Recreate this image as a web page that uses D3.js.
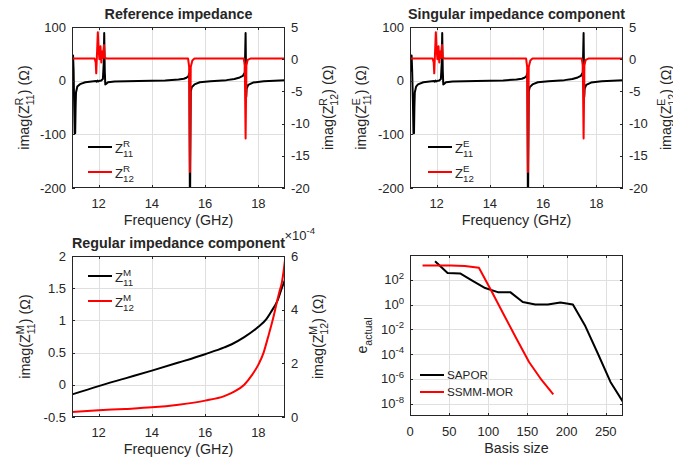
<!DOCTYPE html>
<html><head><meta charset="utf-8">
<script src="https://cdn.jsdelivr.net/npm/d3@7"></script>
<style>
body{margin:0;background:#fff}
svg{display:block}
text{font-family:"Liberation Sans",Arial,Helvetica,sans-serif;fill:#262626}
</style>
</head><body>
<svg id="c" width="673" height="462"></svg>
<script>
// ---------------- DATA ----------------
const freqDomain = [11, 19];
const freqTicks = [12, 14, 16, 18];
const topLeftTicks = [-200, -100, 0, 100];
const topRightTicks = [-20, -15, -10, -5, 0, 5];

// Reference impedance: [frequency GHz, imag value]
const refZ11 = [[11.00,15],[11.02,30],[11.04,47],[11.06,20],[11.08,-40],[11.10,-98],[11.12,-98],[11.135,-50],[11.15,-22],[11.2,-11],[11.3,-6.5],[11.5,-3],[11.9,-0.8],[11.93,-2],[11.96,0],[11.99,-1.5],[12.05,0],[12.10,0.5],[12.16,3],[12.19,30],[12.21,89],[12.23,20],[12.25,-7],[12.28,-6],[12.35,-3],[12.6,-1.5],[13.5,-0.5],[14.5,0.5],[15.0,2],[15.2,3.5],[15.3,5.5],[15.37,8],[15.41,14],[15.43,-260],[15.46,-20],[15.5,-12],[15.6,-7],[15.8,-3],[16.2,-1],[16.8,1],[17.1,3],[17.3,6],[17.42,9],[17.49,15],[17.52,89],[17.545,-30],[17.56,-15],[17.62,-8],[17.8,-3.5],[18.2,-1],[19.0,1]];
const refZ12 = [[11.0,0.1],[11.85,0.1],[11.89,-0.5],[11.91,-2.2],[11.94,1],[11.97,4.2],[12.0,1.5],[12.03,0],[12.07,2.0],[12.1,-0.5],[12.13,1.2],[12.16,0.2],[12.2,2.2],[12.23,0.2],[12.3,0.1],[15.36,0.1],[15.40,-1.2],[15.43,-17.5],[15.46,-1.2],[15.52,-0.2],[15.6,0.1],[17.45,0.1],[17.49,-1],[17.52,-12.3],[17.55,-1],[17.6,-0.1],[17.7,0.1],[19.0,0.1]];

// Singular impedance component
const singZ11 = [[11.00,15],[11.03,30],[11.06,47],[11.08,20],[11.11,-40],[11.13,-98],[11.15,-98],[11.165,-50],[11.18,-22],[11.23,-11],[11.3,-7],[11.5,-3],[11.9,-0.8],[11.93,-2],[11.96,0],[11.99,-1.5],[12.05,0],[12.10,0.5],[12.16,3],[12.19,30],[12.21,89],[12.23,20],[12.25,-7],[12.28,-6],[12.35,-3],[12.6,-1.5],[13.5,-0.5],[14.5,0.5],[15.0,2],[15.2,3.5],[15.3,5.5],[15.37,8],[15.41,14],[15.43,-260],[15.46,-20],[15.5,-12],[15.6,-7],[15.8,-3],[16.2,-1],[16.8,1],[17.1,3],[17.3,6],[17.42,9],[17.49,15],[17.52,89],[17.545,-30],[17.56,-15],[17.62,-8],[17.8,-3.5],[18.2,-1],[19.0,1]];
const singZ12 = [[11.0,0.1],[11.85,0.1],[11.89,-0.5],[11.91,-2.2],[11.94,1],[11.97,4.2],[12.0,1.5],[12.03,0],[12.07,2.0],[12.1,-0.5],[12.13,1.2],[12.16,0.2],[12.2,2.2],[12.23,0.2],[12.3,0.1],[15.36,0.1],[15.40,-1.2],[15.43,-17.5],[15.46,-1.2],[15.52,-0.2],[15.6,0.1],[17.45,0.1],[17.49,-1],[17.52,-12.3],[17.55,-1],[17.6,-0.1],[17.7,0.1],[19.0,0.1]];

// Regular impedance component
const regLeftTicks = [-0.5, 0, 0.5, 1, 1.5, 2];
const regRightTicks = [0, 2e-4, 4e-4, 6e-4];
const regZ11 = [[11,-0.15],[12,-0.02],[13,0.1],[14,0.22],[15,0.345],[16,0.475],[16.72,0.58],[17,0.63],[17.47,0.74],[18,0.9],[18.3,1.02],[18.48,1.135],[18.73,1.32],[18.88,1.5],[19,1.63]];
const regZ12 = [[11,0.19e-4],[12,0.25e-4],[13,0.3e-4],[14,0.36e-4],[15,0.46e-4],[16,0.61e-4],[16.72,0.78e-4],[17,0.9e-4],[17.47,1.2e-4],[17.75,1.55e-4],[18,1.95e-4],[18.2,2.41e-4],[18.35,2.93e-4],[18.54,3.62e-4],[18.7,4.3e-4],[18.79,4.67e-4],[18.88,5.0e-4],[18.95,5.45e-4],[19,5.85e-4]];

// Error vs basis size
const basisTicks = [0, 50, 100, 150, 200, 250];
const errTickExps = [-8, -6, -4, -2, 0, 2];
const saporBasis = [32,48,64,80,96,112,128,144,160,176,192,208,224,240,256,272];
const saporErr = [3162,347,324,83,21.4,10,10,1.58,1.0,1.0,1.45,1.0,0.0174,1.07e-4,5.6e-7,1.35e-8];
const ssmmBasis = [16,32,52,70,88,104,120,136,152,168,183];
const ssmmErr = [1450,1450,1440,1300,930,12.3,0.141,1.74e-3,2.29e-5,8.1e-7,5.6e-8];

// ---------------- DRAWING ----------------
const svg = d3.select("#c");
const TICK = 13, LAB = 14.3, LEG = 13.2;
const GRID = "#dfdfdf", AX = "#262626";
let clipId = 0;

function rich(parent, segs, size, weight) {
  const g = parent.append("g");
  let x = 0;
  for (const s of segs) {
    if (typeof s === "string") {
      const t = g.append("text").attr("x", x).attr("y", 0).style("font-size", size + "px").text(s);
      if (weight) t.style("font-weight", weight);
      x += t.node().getComputedTextLength();
    } else {
      const ss = size * 0.74; let w = 0;
      if (s.sup != null) { const t = g.append("text").attr("x", x).attr("y", -size * 0.42).style("font-size", ss + "px").text(s.sup); w = Math.max(w, t.node().getComputedTextLength()); }
      if (s.sub != null) { const t = g.append("text").attr("x", x).attr("y", size * 0.33).style("font-size", ss + "px").text(s.sub); w = Math.max(w, t.node().getComputedTextLength()); }
      x += w;
    }
  }
  return {g, w: x};
}

function panel(cfg) {
  const {x0, x1, y0, y1} = cfg;
  const g = svg.append("g");
  const id = "clip" + (clipId++);
  g.append("clipPath").attr("id", id).append("rect").attr("x", x0).attr("y", y0).attr("width", x1 - x0).attr("height", y1 - y0);
  // grid
  cfg.xTicks.forEach(t => { const px = Math.round(cfg.x(t)) + 0.5; if (px > x0 + 1 && px < x1 - 1) g.append("line").attr("x1", px).attr("x2", px).attr("y1", y0).attr("y2", y1).attr("stroke", GRID); });
  cfg.yTicks.forEach(t => { const py = Math.round(cfg.y(t)) + 0.5; if (py > y0 + 1 && py < y1 - 1) g.append("line").attr("y1", py).attr("y2", py).attr("x1", x0).attr("x2", x1).attr("stroke", GRID); });
  // data
  const dg = g.append("g").attr("clip-path", `url(#${id})`);
  cfg.series.forEach(s => {
    const line = d3.line().x(d => cfg.x(d[0])).y(d => s.y(d[1]));
    if (cfg.smooth) line.curve(d3.curveMonotoneX);
    dg.append("path").datum(s.data).attr("d", line).attr("fill", "none").attr("stroke", s.color).attr("stroke-width", 2).attr("stroke-linejoin", "round");
  });
  // box
  g.append("rect").attr("x", x0 + 0.5).attr("y", y0 + 0.5).attr("width", x1 - x0 - 1).attr("height", y1 - y0 - 1).attr("fill", "none").attr("stroke", AX).attr("stroke-width", 1);
  // ticks
  const TL = 3;
  cfg.xTicks.forEach(t => {
    const px = Math.round(cfg.x(t)) + 0.5;
    g.append("line").attr("x1", px).attr("x2", px).attr("y1", y1).attr("y2", y1 - TL).attr("stroke", AX);
    g.append("line").attr("x1", px).attr("x2", px).attr("y1", y0).attr("y2", y0 + TL).attr("stroke", AX);
    g.append("text").attr("x", cfg.x(t)).attr("y", y1 + 19.5).attr("text-anchor", "middle").style("font-size", TICK + "px").text(cfg.xFmt ? cfg.xFmt(t) : t);
  });
  cfg.yTicks.forEach(t => {
    const py = Math.round(cfg.y(t)) + 0.5;
    g.append("line").attr("x1", x0).attr("x2", x0 + TL).attr("y1", py).attr("y2", py).attr("stroke", AX);
    if (!cfg.yR) g.append("line").attr("x1", x1).attr("x2", x1 - TL).attr("y1", py).attr("y2", py).attr("stroke", AX);
    if (cfg.yRich) {
      const r = rich(g, cfg.yRich(t), TICK);
      r.g.attr("transform", `translate(${x0 - 6 - r.w},${cfg.y(t) + 4.6})`);
    } else {
      g.append("text").attr("x", x0 - 6).attr("y", cfg.y(t) + 4.6).attr("text-anchor", "end").style("font-size", TICK + "px").text(cfg.yFmt ? cfg.yFmt(t) : t);
    }
  });
  if (cfg.yR) {
    cfg.yRTicks.forEach(t => {
      const py = Math.round(cfg.yR(t)) + 0.5;
      g.append("line").attr("x1", x1).attr("x2", x1 - TL).attr("y1", py).attr("y2", py).attr("stroke", AX);
      g.append("text").attr("x", x1 + 6).attr("y", cfg.yR(t) + 4.6).attr("text-anchor", "start").style("font-size", TICK + "px").text(cfg.yRFmt ? cfg.yRFmt(t) : t);
    });
  }
  // title
  if (cfg.title) g.append("text").attr("x", (x0 + x1) / 2).attr("y", y0 - 8.5).attr("text-anchor", "middle").style("font-size", LAB + "px").style("font-weight", "bold").text(cfg.title);
  // x label
  g.append("text").attr("x", (x0 + x1) / 2).attr("y", y1 + 37).attr("text-anchor", "middle").style("font-size", LAB + "px").text(cfg.xLabel);
  // y labels
  const cy = (y0 + y1) / 2;
  const L = rich(g, cfg.yLabel, LAB);
  L.g.attr("transform", `translate(${cfg.yLabelX},${cy}) rotate(-90) translate(${-L.w / 2},0)`);
  if (cfg.yRLabel) {
    const R = rich(g, cfg.yRLabel, LAB);
    R.g.attr("transform", `translate(${cfg.yRLabelX},${cy}) rotate(-90) translate(${-R.w / 2},0)`);
  }
  // legend
  cfg.legend.forEach((e, i) => {
    const ly = cfg.legY + i * cfg.legDy;
    g.append("line").attr("x1", cfg.legX).attr("x2", cfg.legX + 24).attr("y1", ly).attr("y2", ly).attr("stroke", e.color).attr("stroke-width", 2);
    const r = rich(g, e.label, cfg.legSize || LEG);
    r.g.attr("transform", `translate(${cfg.legX + 27},${ly + (cfg.legOff || 5.5)})`);
  });
  return g;
}

// Top-left: Reference impedance
(function () {
  const x0 = 72, x1 = 285, y0 = 27, y1 = 188;
  const x = d3.scaleLinear().domain(freqDomain).range([x0, x1]);
  const y = d3.scaleLinear().domain([-200, 100]).range([y1, y0]);
  const yR = d3.scaleLinear().domain([-20, 5]).range([y1, y0]);
  panel({x0, x1, y0, y1, x, y, yR, xTicks: freqTicks, yTicks: topLeftTicks, yRTicks: topRightTicks,
    yFmt: d => d, title: "Reference impedance", xLabel: "Frequency (GHz)",
    yLabel: ["imag(Z", {sup: "R", sub: "11"}, ") (Ω)"], yLabelX: 29,
    yRLabel: ["imag(Z", {sup: "R", sub: "12"}, ") (Ω)"], yRLabelX: 333,
    series: [{data: refZ11, y: y, color: "#000"}, {data: refZ12, y: yR, color: "#ff0000"}],
    legX: 88, legY: 147, legDy: 25,
    legend: [{color: "#000", label: ["Z", {sup: "R", sub: "11"}]}, {color: "#ff0000", label: ["Z", {sup: "R", sub: "12"}]}]});
})();

// Top-right: Singular impedance component
(function () {
  const x0 = 410, x1 = 623, y0 = 27, y1 = 188;
  const x = d3.scaleLinear().domain(freqDomain).range([x0, x1]);
  const y = d3.scaleLinear().domain([-200, 100]).range([y1, y0]);
  const yR = d3.scaleLinear().domain([-20, 5]).range([y1, y0]);
  panel({x0, x1, y0, y1, x, y, yR, xTicks: freqTicks, yTicks: topLeftTicks, yRTicks: topRightTicks,
    title: "Singular impedance component", xLabel: "Frequency (GHz)",
    yLabel: ["imag(Z", {sup: "E", sub: "11"}, ") (Ω)"], yLabelX: 366,
    yRLabel: ["imag(Z", {sup: "E", sub: "12"}, ") (Ω)"], yRLabelX: 671,
    series: [{data: singZ11, y: y, color: "#000"}, {data: singZ12, y: yR, color: "#ff0000"}],
    legX: 428, legY: 147, legDy: 25,
    legend: [{color: "#000", label: ["Z", {sup: "E", sub: "11"}]}, {color: "#ff0000", label: ["Z", {sup: "E", sub: "12"}]}]});
})();

// Bottom-left: Regular impedance component
(function () {
  const x0 = 72, x1 = 285, y0 = 256, y1 = 417;
  const x = d3.scaleLinear().domain(freqDomain).range([x0, x1]);
  const y = d3.scaleLinear().domain([-0.5, 2]).range([y1, y0]);
  const yR = d3.scaleLinear().domain([0, 6e-4]).range([y1, y0]);
  const g = panel({x0, x1, y0, y1, x, y, yR, smooth: true, xTicks: freqTicks, yTicks: regLeftTicks, yRTicks: regRightTicks,
    yRFmt: d => Math.round(d / 1e-4), title: "Regular impedance component", xLabel: "Frequency (GHz)",
    yLabel: ["imag(Z", {sup: "M", sub: "11"}, ") (Ω)"], yLabelX: 30,
    yRLabel: ["imag(Z", {sup: "M", sub: "12"}, ") (Ω)"], yRLabelX: 323,
    series: [{data: regZ11, y: y, color: "#000"}, {data: regZ12, y: yR, color: "#ff0000"}],
    legX: 88, legY: 276, legDy: 25,
    legend: [{color: "#000", label: ["Z", {sup: "M", sub: "11"}]}, {color: "#ff0000", label: ["Z", {sup: "M", sub: "12"}]}]});
  const e = rich(g, ["×10", {sup: "-4"}], TICK);
  e.g.attr("transform", `translate(${x1 - 0.5},${y0 - 16.5})`);
})();

// Bottom-right: error vs basis size
(function () {
  const x0 = 410, x1 = 623, y0 = 255, y1 = 416;
  const x = d3.scaleLinear().domain([0, 272]).range([x0, x1]);
  const y = d3.scaleLog().domain([1e-9, 1e4]).range([y1, y0]);
  const sap = saporBasis.map((b, i) => [b, saporErr[i]]);
  const ssm = ssmmBasis.map((b, i) => [b, ssmmErr[i]]);
  panel({x0, x1, y0, y1, x, y, xTicks: basisTicks, yTicks: errTickExps.map(e => Math.pow(10, e)),
    yRich: t => ["10", {sup: String(Math.round(Math.log10(t)))}],
    xLabel: "Basis size",
    yLabel: ["e", {sub: "actual"}], yLabelX: 367,
    series: [{data: sap, y: y, color: "#000"}, {data: ssm, y: y, color: "#ff0000"}],
    legX: 420, legY: 375, legDy: 17, legSize: 11.7, legOff: 4.2,
    legend: [{color: "#000", label: ["SAPOR"]}, {color: "#ff0000", label: ["SSMM-MOR"]}]});
})();
</script>
</body></html>
